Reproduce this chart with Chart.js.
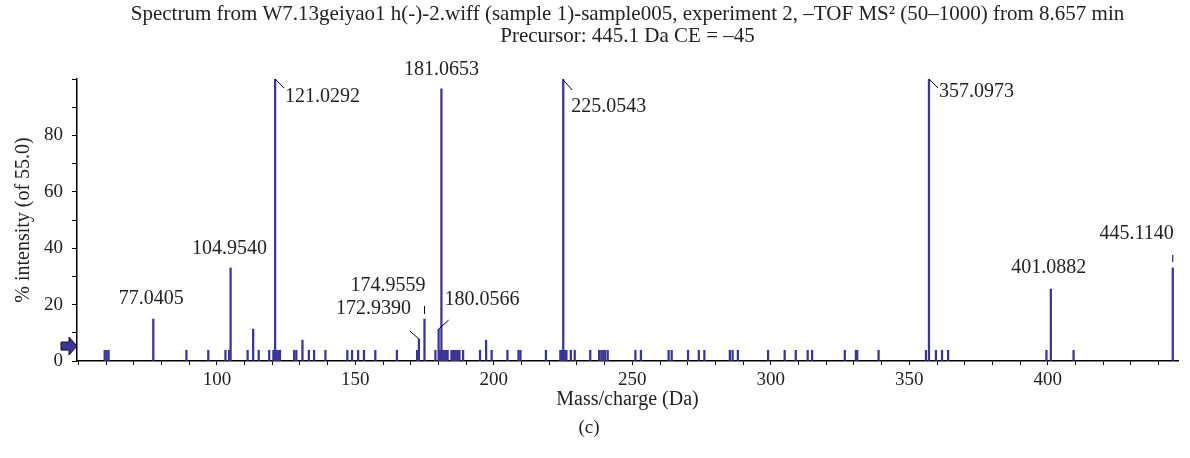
<!DOCTYPE html>
<html>
<head>
<meta charset="utf-8">
<script src="https://cdn.jsdelivr.net/npm/chart.js@4.4.0/dist/chart.umd.min.js"></script>
<style>
  html, body { margin: 0; padding: 0; background: #fff; }
  #wrap { width: 1190px; height: 458px; }
</style>
</head>
<body>
<div id="wrap"><canvas id="spectrum"></canvas></div>
<script>
// peak list (m/z, % intensity)
const mz = [
  59.5, 60.2, 60.9, 77.0405, 89.0, 96.9, 103.1, 104.4, 104.954, 111.1,
  113.1, 115.1, 118.9, 120.4, 121.0292, 121.6, 122.2, 122.8, 127.9, 128.7,
  130.9, 133.2, 135.1, 139.2, 147.1, 148.8, 151.0, 153.1, 157.2, 165.0,
  172.3, 172.939, 174.9559, 178.9, 180.0566, 180.5, 181.0653, 181.5, 182.1, 182.7,
  183.3, 184.7, 185.2, 185.8, 186.4, 187.0, 187.6, 188.9, 195.0, 197.2,
  199.2, 204.9, 208.9, 209.6, 218.8, 224.0, 224.6, 225.0543, 225.6, 226.2,
  227.8, 229.2, 234.8, 238.0, 238.8, 239.5, 240.2, 241.1, 251.1, 253.1,
  263.1, 264.2, 270.1, 274.0, 276.0, 285.2, 286.2, 288.1, 299.0, 305.0,
  309.0, 313.3, 314.9, 326.7, 330.7, 331.2, 338.9, 356.0, 357.0973, 359.6,
  361.8, 364.0, 399.5, 401.0882, 409.3, 445.114
];
const intensity = [
  3.8, 3.8, 3.8, 14.9, 3.8, 3.8, 3.8, 3.8, 33.0, 3.8,
  11.3, 3.8, 3.8, 3.8, 100, 3.8, 3.8, 3.8, 3.8, 3.8,
  7.4, 3.8, 3.8, 3.8, 3.8, 3.8, 3.8, 3.8, 3.8, 3.8,
  3.8, 7.8, 14.9, 3.8, 11.3, 3.8, 96.5, 3.8, 3.8, 3.8,
  3.8, 3.8, 3.8, 3.8, 3.8, 3.8, 3.8, 3.8, 3.8, 7.4,
  3.8, 3.8, 3.8, 3.8, 3.8, 3.8, 3.8, 100, 3.8, 3.8,
  3.8, 3.8, 3.8, 3.8, 3.8, 3.8, 3.8, 3.8, 3.8, 3.8,
  3.8, 3.8, 3.8, 3.8, 3.8, 3.8, 3.8, 3.8, 3.8, 3.8,
  3.8, 3.8, 3.8, 3.8, 3.8, 3.8, 3.8, 3.8, 100, 3.8,
  3.8, 3.8, 3.8, 25.5, 3.8, 33.0
];
// annotated peaks
const labeledPeaks = [121.0292, 181.0653, 225.0543, 357.0973, 104.954, 77.0405,
                      401.0882, 445.114, 174.9559, 172.939, 180.0566];
const threshold = 5.3;

const xTickLabels = [100, 150, 200, 250, 300, 350, 400];
const yTickLabels = [0, 20, 40, 60, 80];

const titleLines = [
  'Spectrum from W7.13geiyao1 h(-)-2.wiff (sample 1)-sample005, experiment 2, \u2013TOF MS\u00B2 (50\u20131000) from 8.657 min',
  'Precursor: 445.1 Da CE = \u201345'
];

// where each label sits relative to its peak top (same order as labeledPeaks)
const labelStyles = [
  { align: 'left',   dx: 10, dy: 18,  leader: [0, 0, 9, 9] },
  { align: 'center', dx: 0,  dy: -19 },
  { align: 'left',   dx: 8,  dy: 28,  leader: [0, 1, 9, 11] },
  { align: 'left',   dx: 10, dy: 13,  leader: [0, 0, 9, 9] },
  { align: 'center', dx: -1, dy: -19 },
  { align: 'center', dx: -2, dy: -20 },
  { align: 'center', dx: -2, dy: -21 },
  { align: 'right',  dx: 1,  dy: -34, tick: [-13, -6] },
  { align: 'right',  dx: 1,  dy: -33, tick: [-13, -5] },
  { align: 'right',  dx: -8, dy: -30, leader: [0, 0, -9, -8] },
  { align: 'left',   dx: 6,  dy: -29, leader: [0, 0, 10, -9] }
];

const serif = '"Liberation Serif", "DejaVu Serif", serif';
const barColor = '#3a349b';
const textColor = '#222';

const peakLabels = {
  id: 'peakLabels',
  afterDatasetsDraw(chart) {
    const { ctx, scales: { x, y } } = chart;
    ctx.save();
    ctx.font = '20px ' + serif;
    ctx.fillStyle = textColor;
    ctx.strokeStyle = '#000';
    ctx.lineWidth = 1;
    ctx.textBaseline = 'middle';
    labeledPeaks.forEach((m, k) => {
      const i = mz.indexOf(m);
      const px = x.getPixelForValue(m);
      const py = y.getPixelForValue(intensity[i]);
      const st = labelStyles[k];
      if (st.leader) {
        ctx.beginPath();
        ctx.moveTo(px + st.leader[0], py + st.leader[1]);
        ctx.lineTo(px + st.leader[2], py + st.leader[3]);
        ctx.stroke();
      }
      if (st.tick) {
        ctx.beginPath();
        ctx.moveTo(px, py + st.tick[0]);
        ctx.lineTo(px, py + st.tick[1]);
        ctx.stroke();
      }
      ctx.textAlign = st.align;
      ctx.fillText(m.toFixed(4), px + st.dx, py + st.dy);
    });

    // threshold arrow on the y axis
    const ty = y.getPixelForValue(threshold);
    const ax = x.left;
    ctx.beginPath();
    ctx.moveTo(ax - 16, ty - 4);
    ctx.lineTo(ax - 8, ty - 4);
    ctx.lineTo(ax - 8, ty - 9);
    ctx.lineTo(ax, ty);
    ctx.lineTo(ax - 8, ty + 9);
    ctx.lineTo(ax - 8, ty + 4);
    ctx.lineTo(ax - 16, ty + 4);
    ctx.closePath();
    ctx.fillStyle = barColor;
    ctx.fill();
    ctx.strokeStyle = '#111';
    ctx.stroke();
    ctx.restore();
  }
};

new Chart(document.getElementById('spectrum'), {
  type: 'bar',
  data: {
    datasets: [{
      data: mz.map((m, i) => ({ x: m, y: intensity[i] })),
      backgroundColor: barColor,
      borderWidth: 0,
      barThickness: 1.6
    }]
  },
  options: {
    responsive: true,
    maintainAspectRatio: false,
    animation: false,
    layout: { padding: { left: 0, right: 12, top: 0, bottom: 0 } },
    plugins: {
      legend: { display: false },
      tooltip: { enabled: false },
      title: {
        display: true,
        fullSize: false,
        text: titleLines,
        color: textColor,
        font: { family: serif, size: 21, weight: 'normal', lineHeight: 22 / 21 },
        padding: { top: 3, bottom: 32 }
      },
      subtitle: {
        display: true,
        position: 'bottom',
        text: '(c)',
        color: textColor,
        font: { family: serif, size: 19, lineHeight: 1.2 },
        padding: { top: 0, bottom: 18.6 }
      }
    },
    scales: {
      x: {
        type: 'linear',
        min: 49.5,
        max: 447,
        offset: false,
        grid: { drawOnChartArea: false, offset: false, tickLength: 4, color: '#000' },
        border: { color: '#000', width: 1.5 },
        ticks: {
          stepSize: 10,
          autoSkip: false,
          includeBounds: false,
          maxRotation: 0,
          padding: 3.6,
          color: textColor,
          font: { family: serif, size: 19 },
          callback: v => xTickLabels.includes(v) ? String(v) : ''
        },
        title: {
          display: true,
          text: 'Mass/charge (Da)',
          color: textColor,
          font: { family: serif, size: 20, lineHeight: 1.2 },
          padding: { top: 0, bottom: 5 }
        },
        afterFit(scale) { scale.height = 55.6; }
      },
      y: {
        min: 0,
        max: 100,
        grid: { drawOnChartArea: false, tickLength: 5, color: '#000' },
        border: { color: '#000', width: 1.5 },
        ticks: {
          stepSize: 10,
          autoSkip: false,
          padding: 9,
          color: textColor,
          font: { family: serif, size: 19 },
          callback: v => yTickLabels.includes(v) ? String(v) : ''
        },
        title: {
          display: true,
          text: '% intensity (of 55.0)',
          color: textColor,
          font: { family: serif, size: 20, lineHeight: 1.2 },
          padding: { top: 12, bottom: 0 }
        },
        afterFit(scale) { scale.width = 77; }
      }
    }
  },
  plugins: [peakLabels]
});
</script>
</body>
</html>
